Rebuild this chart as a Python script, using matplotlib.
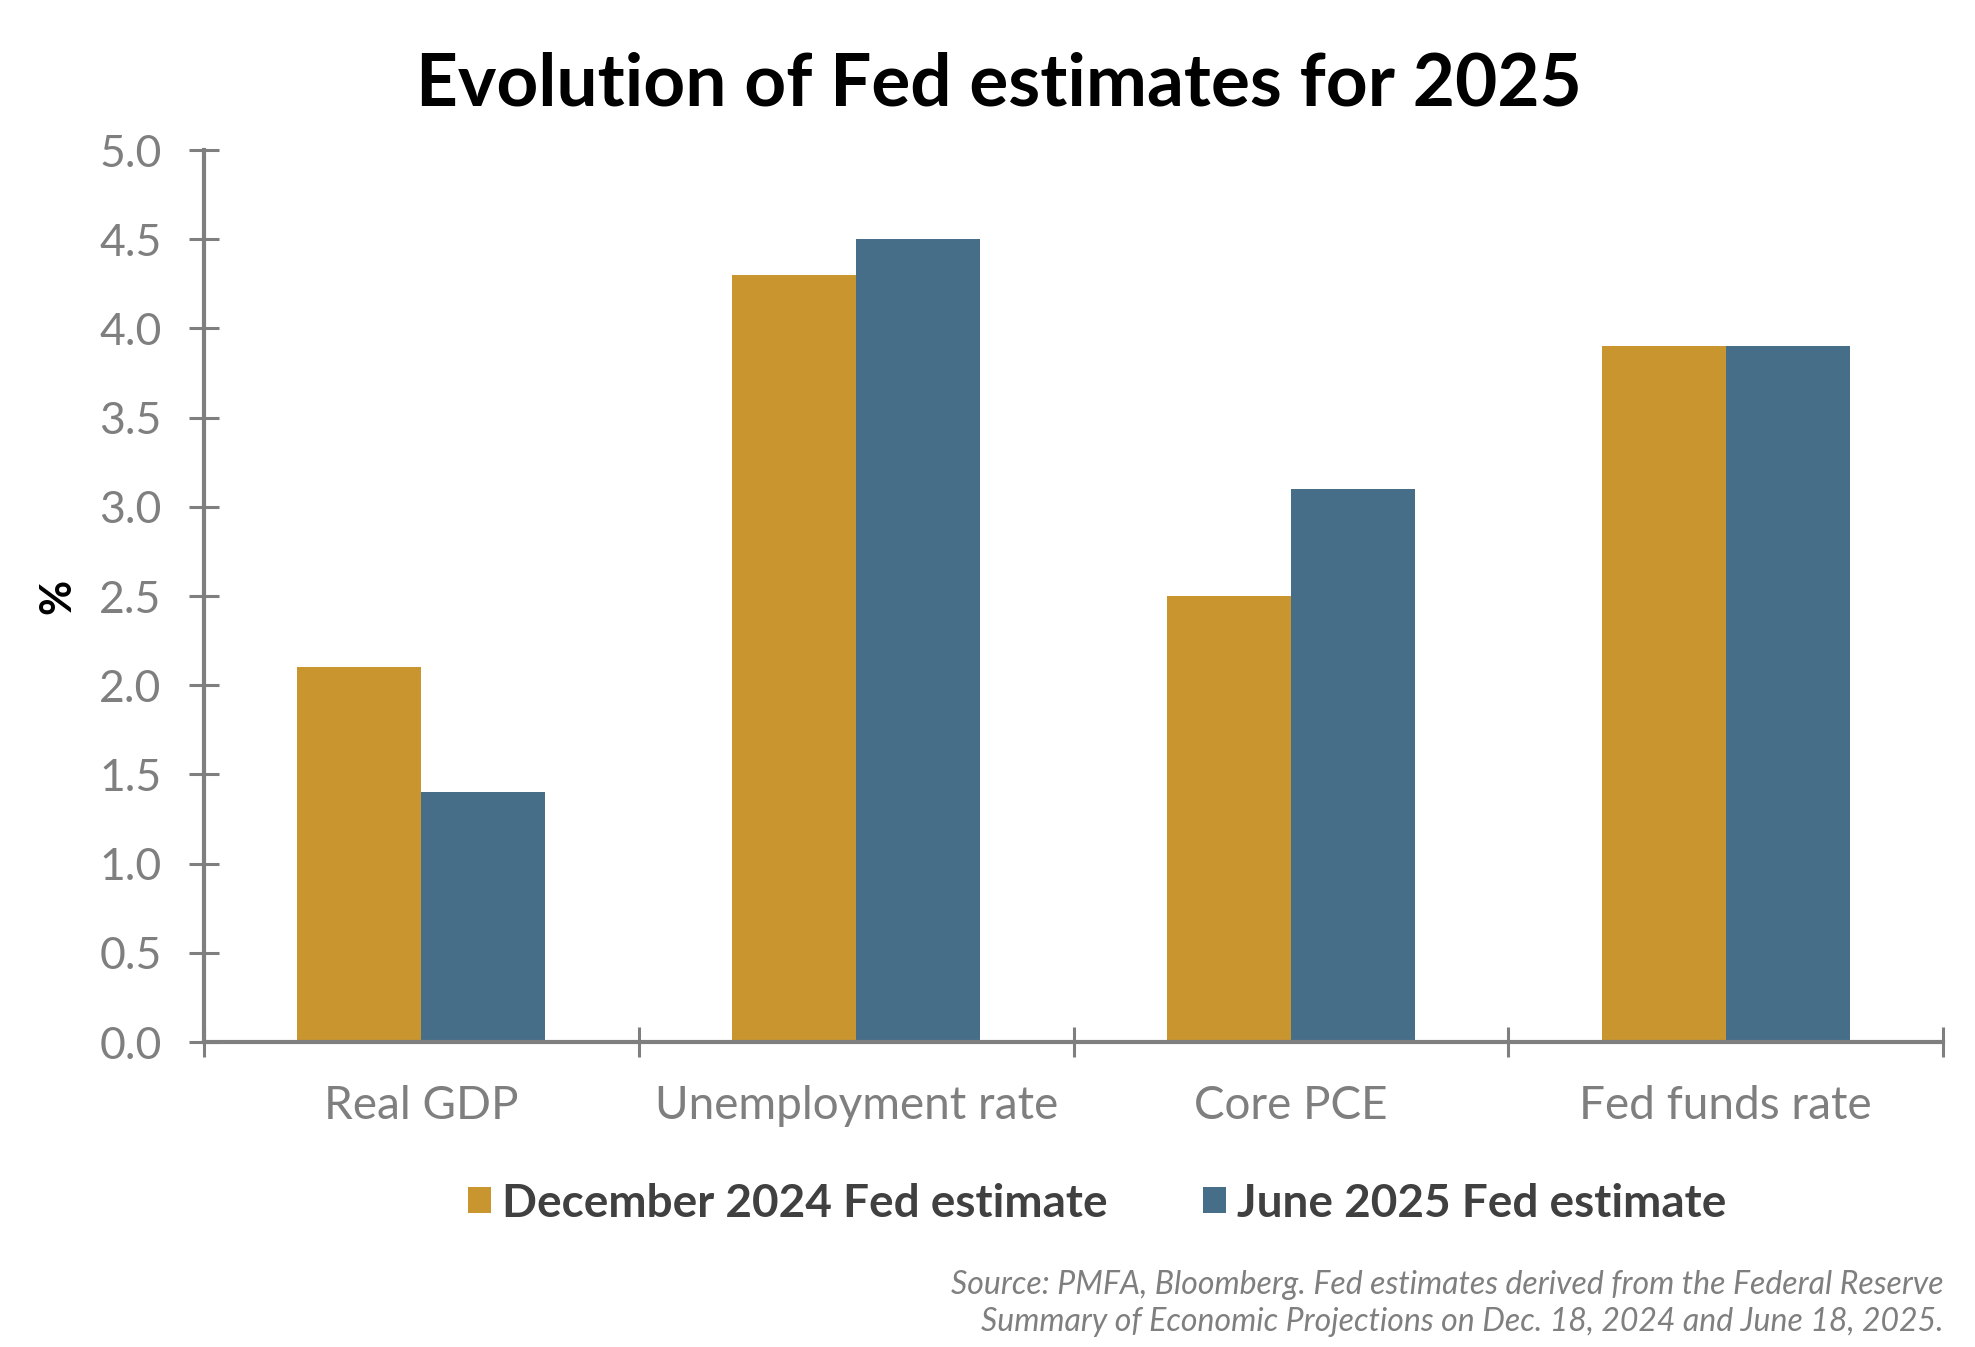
import numpy as np
import matplotlib
matplotlib.use("Agg")
import matplotlib.pyplot as plt

plt.rcParams["font.family"] = ["Lato", "DejaVu Sans"]

categories = ["Real GDP", "Unemployment rate", "Core PCE", "Fed funds rate"]
dec_2024 = [2.1, 4.3, 2.5, 3.9]
jun_2025 = [1.4, 4.5, 3.1, 3.9]
series_names = ["December 2024 Fed estimate", "June 2025 Fed estimate"]
y_ticks = [0.0, 0.5, 1.0, 1.5, 2.0, 2.5, 3.0, 3.5, 4.0, 4.5, 5.0]

gold = "#C8952E"
blue = "#476E89"
gray = "#7F7F7F"

fig = plt.figure(figsize=(19.75, 13.47), dpi=100)
ax = fig.add_axes([0.1033, 0.2264, 0.8805, 0.6622])

x = np.arange(len(categories)) + 0.5
w = 0.285
ax.bar(x - w / 2, dec_2024, w, color=gold, label=series_names[0], zorder=2)
ax.bar(x + w / 2, jun_2025, w, color=blue, label=series_names[1], zorder=2)

ax.set_xlim(0, len(categories))
ax.set_ylim(0, 5)
ax.set_yticks(y_ticks)
ax.set_yticklabels([f"{t:.1f}" for t in y_ticks])

# category boundaries get the ticks, names sit in the middle
ax.set_xticks(range(len(categories) + 1))
ax.set_xticklabels([])
ax.set_xticks(x, minor=True)
ax.set_xticklabels(categories, minor=True)

for side in ["top", "right"]:
    ax.spines[side].set_visible(False)
for side in ["left", "bottom"]:
    ax.spines[side].set_color(gray)
    ax.spines[side].set_linewidth(3)

ax.tick_params(axis="y", direction="inout", length=21, width=2.2, color=gray,
               labelsize=32, labelcolor=gray, pad=20)
ax.tick_params(axis="x", which="major", direction="inout", length=21, width=2.2,
               color=gray)
ax.tick_params(axis="x", which="minor", length=0, labelsize=33,
               labelcolor=gray, pad=31)

ax.set_ylabel("%", fontsize=31, fontweight="bold", color="black", labelpad=16)

fig.text(0.506, 0.937, "Evolution of Fed estimates for 2025", ha="center",
         va="center", fontsize=52.5, fontweight="bold", color="black")

leg = fig.legend(loc="center", bbox_to_anchor=(0.5556, 0.1065), ncol=2,
                 frameon=False, prop={"size": 33, "weight": "bold"},
                 handlelength=0.5, handleheight=0.5, handletextpad=0.25,
                 columnspacing=2.07)
for t in leg.get_texts():
    t.set_color("#404040")

fig.text(0.984, 0.032,
         "Source: PMFA, Bloomberg. Fed estimates derived from the Federal Reserve\n"
         "Summary of Economic Projections on Dec. 18, 2024 and June 18, 2025.",
         ha="right", va="center", fontsize=23, style="italic", color=gray,
         linespacing=1.3)

fig.savefig("out.png", dpi=100)
